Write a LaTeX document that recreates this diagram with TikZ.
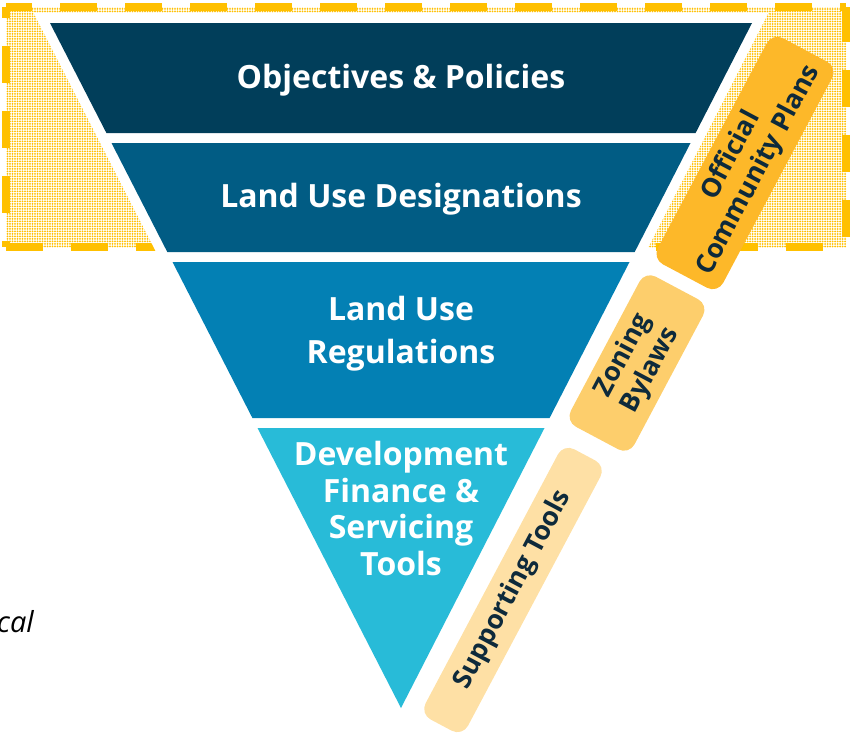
\documentclass[tikz,border=0pt]{standalone}
\usepackage{fontspec}
\setmainfont{Open Sans}
\usetikzlibrary{patterns.meta}
\definecolor{bandA}{HTML}{013E5A}
\definecolor{bandB}{HTML}{015C84}
\definecolor{bandC}{HTML}{0380B4}
\definecolor{bandD}{HTML}{28BBD8}
\definecolor{ocpC}{HTML}{FDB829}
\definecolor{zonC}{HTML}{FDCE6C}
\definecolor{supC}{HTML}{FEE0A5}
\definecolor{dashY}{HTML}{FFC000}
\definecolor{sideText}{HTML}{0E2A3B}
\tikzset{
  bandtext/.style={text=white, font=\bfseries\fontsize{32}{36.5}\selectfont, align=center, inner sep=0pt},
  sidebox/.style={draw=none, rounded corners=12pt, text=sideText, font=\bfseries\fontsize{26.5}{31}\selectfont, align=center, inner sep=0pt, rotate=62},
  dashline/.style={draw=dashY, line width=8pt, dash pattern=on 37pt off 28pt}
}
\begin{document}
\begin{tikzpicture}[x=1pt,y=-1pt]
\useasboundingbox (0,0) rectangle (852,734);
% dotted zone
\fill[pattern={Dots[distance=2.5pt,radius=1pt]}, pattern color=dashY] (6,7) rectangle (846,247);
% dashed frame
\coordinate (f1) at (6,7);
\coordinate (f2) at (846,7);
\coordinate (f3) at (846,247);
\coordinate (f4) at (6,247);
\draw[dashline, dash phase=11pt] (f1) -- (f2);
\draw[dashline, dash phase=26pt] (f1) -- (f4);
\draw[dashline, dash phase=0pt] (f4) -- (f3);
\draw[dashline, dash phase=2pt] (f2) -- (f3);
% white halo of the triangle
\filldraw[white, line width=20pt, line join=miter] (50,23) -- (752,23) -- (401,708) -- cycle;
% bands
\fill[bandA] (50,23) -- (752,23) -- (695.6,133) -- (106.4,133) -- cycle;
\fill[bandB] (111.5,143) -- (690.5,143) -- (634.7,252) -- (167.3,252) -- cycle;
\fill[bandC] (172.5,262) -- (629.5,262) -- (549.6,418) -- (252.4,418) -- cycle;
\fill[bandD] (257.5,428) -- (544.5,428) -- (401,708) -- cycle;
% band texts (anchor base = baseline of the last line)
\node[bandtext, anchor=base] (t1) at (401,88) {Objectives \& Policies};
\node[bandtext, anchor=base] (t2) at (401,207) {Land Use Designations};
\node[bandtext, font=\bfseries\fontsize{32}{43}\selectfont, anchor=base] (t3) at (401,363) {Land Use\\Regulations};
\node[bandtext, anchor=base] (t4) at (401,575) {Development\\Finance \&\\Servicing\\Tools};
% side boxes
\node[sidebox, fill=ocpC, minimum width=256pt, minimum height=74pt] (ocp) at (745,163) {Official\\Community Plans};
\node[sidebox, fill=zonC, minimum width=170pt, minimum height=72pt] (zon) at (637,363) {Zoning\\Bylaws};
\node[sidebox, fill=supC, minimum width=306pt, minimum height=48pt] (sup) at (513,590) {Supporting Tools};
% cut-off caption fragment
\node[font=\itshape\fontsize{29}{34}\selectfont, anchor=base east, inner sep=0pt, text=black] (cal) at (34,632) {cal};
\end{tikzpicture}
\end{document}
